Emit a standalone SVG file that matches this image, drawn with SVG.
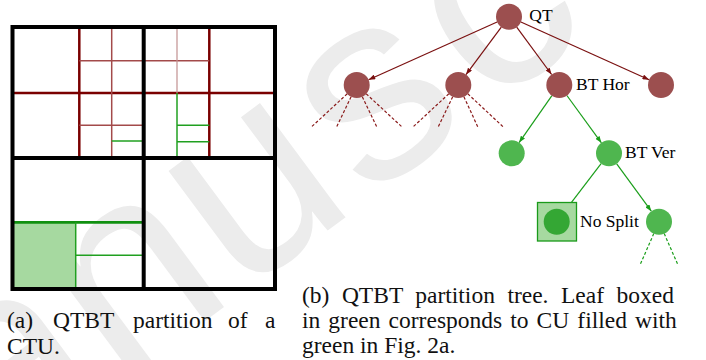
<svg xmlns="http://www.w3.org/2000/svg" width="706" height="360" viewBox="0 0 706 360">
<style>
.wm{font-family:"Liberation Sans",Arial,sans-serif;font-size:270px;fill:#ececec}
.red{fill:#9c4f4f}
.grn{fill:#4fb64f}
.lbl{font-family:"Liberation Serif","Times New Roman",serif;font-size:17.5px;fill:#000}
.cap{font-family:"Liberation Serif","Times New Roman",serif;font-size:23.5px;fill:#111}
.er{stroke:#7a1010;stroke-width:1.2;fill:none}
.eg{stroke:#1a9e1a;stroke-width:1.2;fill:none}
.dr{stroke:#8a1a1a;stroke-width:1.2;stroke-dasharray:3 2;fill:none}
.dg{stroke:#1a9e1a;stroke-width:1.2;stroke-dasharray:3 2;fill:none}
.blk{stroke:#000;stroke-width:4;fill:none}
.rT{stroke:#7a0000;stroke-width:2.5}
.rt{stroke:#a34a4a;stroke-width:1.5}
.rl{stroke:#c29090;stroke-width:1.2}
.gT{stroke:#109010;stroke-width:2.8}
.gt{stroke:#20a020;stroke-width:1.5}
</style>
<defs>
<marker id="ar" viewBox="0 0 8 6" refX="8" refY="3" markerWidth="7" markerHeight="5" markerUnits="userSpaceOnUse" orient="auto"><path d="M0,0 L8,3 L0,6 z" fill="#7a1010"/></marker>
<marker id="ag" viewBox="0 0 8 6" refX="8" refY="3" markerWidth="7" markerHeight="5" markerUnits="userSpaceOnUse" orient="auto"><path d="M0,0 L8,3 L0,6 z" fill="#1a9e1a"/></marker>
</defs>
<rect width="706" height="360" fill="#fff"/>
<g id="watermark">
<text class="wm" x="-3.5" y="476" transform="rotate(-36.6 -3.5 476)">a</text>
<text class="wm" x="117.5" y="386" transform="rotate(-36.6 117.5 386)">n</text>
<text class="wm" x="239.5" y="296" transform="rotate(-36.6 239.5 296)">u</text>
<text class="wm" x="366.5" y="201" transform="rotate(-36.6 366.5 201)">s</text>
<text class="wm" x="487.5" y="111" transform="rotate(-36.6 487.5 111)">c</text>
</g>

<g id="ctu-grid">
<rect x="13" y="223" width="62.7" height="66" fill="#a6d9a0"/>
<line class="rT" x1="79.3" y1="27" x2="79.3" y2="158"/>
<line class="rT" x1="209.3" y1="27" x2="209.3" y2="158"/>
<line class="rT" x1="13" y1="93" x2="275" y2="93"/>
<line class="rt" x1="111.7" y1="27" x2="111.7" y2="158"/>
<line class="rt" x1="79.3" y1="60.7" x2="209.3" y2="60.7"/>
<line class="rl" x1="177" y1="27" x2="177" y2="93"/>
<line class="rt" x1="79.3" y1="125.3" x2="143.7" y2="125.3"/>
<line class="gt" x1="111.7" y1="141" x2="143.7" y2="141"/>
<line class="gt" x1="177" y1="93" x2="177" y2="158"/>
<line class="gt" x1="177" y1="125.3" x2="209.3" y2="125.3"/>
<line class="gt" x1="177" y1="141.7" x2="209.3" y2="141.7"/>
<line class="gT" x1="13" y1="222.3" x2="143.7" y2="222.3"/>
<line class="gt" x1="75.7" y1="222.3" x2="75.7" y2="289"/>
<line class="gt" x1="75.7" y1="255.3" x2="143.7" y2="255.3"/>
<line class="blk" x1="143.7" y1="27" x2="143.7" y2="289"/>
<line class="blk" x1="12.5" y1="158" x2="275" y2="158"/>
<rect class="blk" x="12.5" y="27" width="262.5" height="262"/>
</g>

<g id="connectors">
<line class="er" x1="497.1" y1="22" x2="368.6" y2="79.7" marker-end="url(#ar)"/>
<line class="er" x1="501.3" y1="27.1" x2="466" y2="74.6" marker-end="url(#ar)"/>
<line class="er" x1="516.7" y1="27.2" x2="551.6" y2="74.5" marker-end="url(#ar)"/>
<line class="er" x1="520.9" y1="22" x2="649.1" y2="79.7" marker-end="url(#ar)"/>
<line class="eg" x1="551.9" y1="95.7" x2="519.1" y2="142.6" marker-end="url(#ag)"/>
<line class="eg" x1="566.9" y1="95.5" x2="601.4" y2="142.8" marker-end="url(#ag)"/>
<line class="eg" x1="601.1" y1="163.6" x2="564.6" y2="211.4" marker-end="url(#ag)"/>
<line class="eg" x1="616.7" y1="163.8" x2="651.3" y2="211.2" marker-end="url(#ag)"/>
<line class="dr" x1="347.2" y1="93.8" x2="311.7" y2="126.7"/>
<line class="dr" x1="351.1" y1="96.7" x2="336.7" y2="126.7"/>
<line class="dr" x1="362.3" y1="96.7" x2="376.7" y2="126.7"/>
<line class="dr" x1="366.2" y1="93.8" x2="401.7" y2="126.7"/>
<line class="dr" x1="448.8" y1="93.8" x2="413.3" y2="126.7"/>
<line class="dr" x1="452.7" y1="96.7" x2="438.3" y2="126.7"/>
<line class="dr" x1="463.9" y1="96.7" x2="477.7" y2="126.7"/>
<line class="dr" x1="467.8" y1="93.8" x2="503" y2="126.7"/>
<line class="dg" x1="653.8" y1="233.6" x2="640" y2="265"/>
<line class="dg" x1="664.2" y1="233.6" x2="678" y2="265"/>
</g>

<g id="node-qt"><circle class="red" cx="509" cy="16.7" r="13"/><text class="lbl" x="529.3" y="21">QT</text></g>
<g id="node-q1"><circle class="red" cx="356.7" cy="85" r="13"/></g>
<g id="node-q2"><circle class="red" cx="458.3" cy="85" r="13"/></g>
<g id="node-bthor"><circle class="red" cx="559.3" cy="85" r="13"/><text class="lbl" x="576" y="90">BT Hor</text></g>
<g id="node-q4"><circle class="red" cx="661" cy="85" r="13"/></g>
<g id="node-g1"><circle class="grn" cx="511.7" cy="153.3" r="13"/></g>
<g id="node-btver"><circle class="grn" cx="609" cy="153.3" r="13"/><text class="lbl" x="625" y="158">BT Ver</text></g>
<g id="node-nosplit"><rect x="537.5" y="202.5" width="39" height="38.5" fill="#a6d9a0" stroke="#1a9a1a" stroke-width="1.3"/><circle cx="556.7" cy="221.7" r="13" fill="#34a734"/><text class="lbl" x="580" y="226.5">No Split</text></g>
<g id="node-g4"><circle class="grn" cx="659" cy="221.7" r="13"/></g>

<g id="captions">
<text class="cap" y="327.5"><tspan x="7">(a)</tspan><tspan x="53">QTBT</tspan><tspan x="133">partition</tspan><tspan x="228">of</tspan><tspan x="265">a</tspan></text>
<text class="cap" x="7" y="354">CTU.</text>
<text class="cap" x="302" y="303" word-spacing="6.6">(b) QTBT partition tree. Leaf boxed</text>
<text class="cap" x="302" y="328" word-spacing="2.2">in green corresponds to CU filled with</text>
<text class="cap" x="302" y="352.5">green in Fig. 2a.</text>
</g>
</svg>
